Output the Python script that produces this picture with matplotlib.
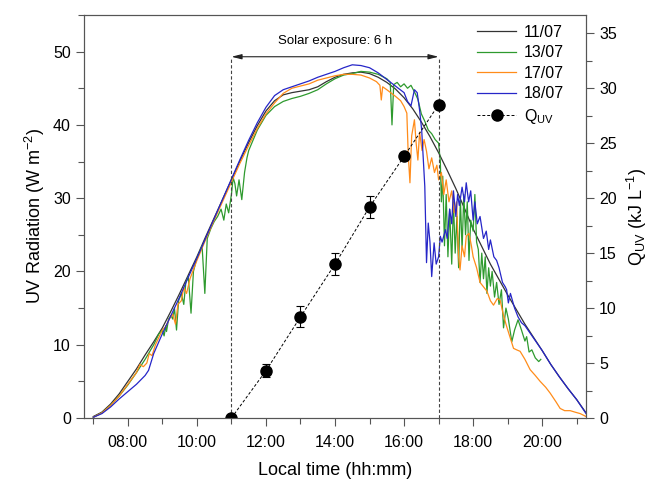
import numpy as np
import matplotlib
matplotlib.use("Agg")
import matplotlib.pyplot as plt
from matplotlib.ticker import MultipleLocator, FixedLocator
from matplotlib.lines import Line2D

plt.rcParams['font.family'] = ['Liberation Sans', 'DejaVu Sans']
plt.rcParams['mathtext.default'] = 'regular'

# 11/07
t_1107 = [7.0, 7.25, 7.5, 7.75, 8.0, 8.25, 8.5, 8.75, 9.0, 9.25, 9.5, 9.75, 10.0, 10.25, 10.5, 10.75,
          11.0, 11.25, 11.5, 11.75, 12.0, 12.25, 12.5, 12.75, 13.0, 13.25, 13.5, 13.75, 14.0, 14.25,
          14.5, 14.75, 15.0, 15.25, 15.5, 15.75, 16.0, 16.25, 16.5, 16.75, 17.0, 17.25, 17.5, 17.75,
          18.0, 18.25, 18.5, 18.75, 19.0, 19.25, 19.5, 19.75, 20.0, 20.25, 20.5, 20.75, 21.0, 21.27]
uv_1107 = [0.2, 0.8, 1.9, 3.3, 5.0, 6.7, 8.6, 10.4, 12.3, 14.6, 17.0, 19.5, 22.0, 24.7, 27.3, 29.9,
           32.5, 35.1, 37.6, 39.9, 41.9, 43.3, 44.1, 44.4, 44.6, 44.8, 45.2, 45.9, 46.5, 46.9,
           47.1, 47.2, 47.0, 46.5, 45.8, 44.9, 43.7, 42.2, 40.4, 38.4, 36.2, 33.8, 31.3, 28.6,
           25.8, 23.4, 21.0, 18.9, 16.8, 14.8, 12.8, 11.0, 9.2, 7.3, 5.6, 4.0, 2.5, 0.7]

# 13/07
t_1307 = [7.0, 7.25, 7.5, 7.75, 8.0, 8.25, 8.5, 8.75, 8.9, 9.0, 9.05, 9.1, 9.12, 9.18, 9.25, 9.3, 9.35,
          9.41, 9.47, 9.55, 9.62, 9.68, 9.75, 9.83, 9.9, 9.98, 10.05, 10.15, 10.23, 10.3, 10.4, 10.5,
          10.6, 10.7, 10.78, 10.85, 10.92, 11.0, 11.05, 11.1, 11.15, 11.22, 11.3, 11.38, 11.45, 11.5,
          11.75, 12.0, 12.25, 12.5, 12.75, 13.0, 13.25, 13.5, 13.75, 14.0, 14.25, 14.5, 14.75, 15.0,
          15.25, 15.5, 15.6, 15.65, 15.7, 15.8, 15.9, 16.0, 16.1, 16.2, 16.3, 16.4, 16.5, 16.6, 16.7,
          16.8, 16.9, 17.0, 17.05, 17.08, 17.12, 17.17, 17.22, 17.27, 17.32, 17.38, 17.43, 17.48,
          17.53, 17.58, 17.63, 17.68, 17.73, 17.78, 17.83, 17.88, 17.93, 18.0, 18.05, 18.1, 18.15,
          18.2, 18.25, 18.3, 18.35, 18.4, 18.45, 18.5, 18.55, 18.62, 18.68, 18.75, 18.82, 18.88,
          18.95, 19.02, 19.12, 19.2, 19.3, 19.4, 19.5, 19.55, 19.62, 19.7, 19.8, 19.9, 19.96]
uv_1307 = [0.1, 0.7, 1.7, 3.0, 4.5, 6.2, 8.0, 10.0, 11.5, 12.0, 11.2, 12.6, 11.8, 13.5, 14.0, 13.5, 15.0,
           12.0, 16.0, 17.0, 15.5, 18.5, 19.3, 14.3, 20.0, 21.5, 22.3, 23.5, 17.0, 24.5, 25.8, 26.8,
           27.5, 28.5, 27.0, 29.2, 28.0, 30.5, 32.8, 32.0, 30.3, 32.5, 29.8, 33.5, 35.5, 36.5,
           39.3, 41.3, 42.5, 43.2, 43.6, 43.9, 44.3, 44.8, 45.6, 46.3, 46.8, 47.0, 47.3, 47.2,
           46.9, 46.3, 45.8, 40.0, 45.5, 45.8, 45.2, 45.6, 45.0, 45.4, 44.5, 43.5, 41.5, 40.5, 39.3,
           38.8, 38.0, 37.5, 35.0, 29.5, 33.0, 23.5, 30.5, 22.0, 28.5, 21.0, 29.5, 22.5,
           27.5, 20.5, 30.0, 23.0, 30.5, 25.0, 29.5, 21.5, 27.0, 25.5, 30.5, 24.0, 23.0,
           18.5, 22.5, 19.0, 22.0, 17.0, 20.5, 18.0, 20.0, 16.5, 18.5, 15.5, 17.5, 12.3,
           15.0, 13.5, 10.4, 12.0, 13.4, 12.0, 10.5, 11.1, 9.0, 9.3, 8.2, 7.7, 8.0]

# 17/07
t_1707 = [7.0, 7.25, 7.5, 7.75, 8.0, 8.25, 8.35, 8.45, 8.55, 8.62, 8.7, 8.8, 9.0, 9.1, 9.2, 9.3, 9.38,
          9.45, 9.55, 9.62, 9.7, 9.8, 10.0, 10.25, 10.5, 10.75, 11.0, 11.25, 11.5, 11.75, 12.0, 12.25,
          12.5, 12.75, 13.0, 13.25, 13.5, 13.75, 14.0, 14.25, 14.5, 14.75, 15.0, 15.2, 15.3, 15.34,
          15.38, 15.5, 15.75, 15.9, 16.0, 16.08, 16.12, 16.17, 16.22, 16.3, 16.35, 16.4, 16.45, 16.52,
          16.58, 16.65, 16.72, 16.8, 16.88, 16.95, 17.0, 17.08, 17.15, 17.22, 17.3, 17.38, 17.45,
          17.52, 17.58, 17.62, 17.68, 17.75, 17.8, 17.88, 17.95, 18.0, 18.1, 18.2, 18.3, 18.4, 18.5,
          18.59, 18.7, 18.78, 18.88, 18.97, 19.07, 19.17, 19.26, 19.36, 19.5, 19.65, 19.8, 19.94,
          20.1, 20.23, 20.4, 20.52, 20.65, 20.81, 20.95, 21.1, 21.27]
uv_1707 = [0.1, 0.7, 1.7, 3.0, 4.6, 6.2, 7.3, 7.0, 7.5, 8.8, 8.5, 10.0, 12.0, 12.5, 13.5, 14.2, 12.8,
           15.5, 16.0, 17.8, 17.0, 19.0, 21.5, 24.3, 27.0, 29.6, 32.2, 34.8, 37.2, 39.5, 41.5, 43.0,
           44.3, 45.0, 45.3, 45.6, 46.1, 46.4, 46.7, 46.9, 46.9, 46.8, 46.4, 45.9, 45.4, 43.4,
           45.2, 44.8, 43.9, 43.3, 42.5, 41.6, 36.0, 32.1, 38.5, 40.7, 37.5, 35.2, 39.0, 36.5,
           38.0, 36.4, 34.0, 35.5, 33.5, 34.5, 32.5, 33.5, 30.5, 32.5, 29.5, 31.0, 28.0,
           29.5, 22.0, 20.2, 23.5, 22.0, 24.8, 25.2, 23.5, 22.0, 20.5, 18.5, 17.9, 17.3, 16.0,
           15.4, 16.3, 16.1, 14.0, 12.5, 11.0, 9.5, 9.3, 9.1, 8.0, 6.6, 5.8, 5.0,
           4.2, 3.4, 2.2, 1.3, 1.0, 1.0, 0.8, 0.6, 0.2]

# 18/07
t_1807 = [7.0, 7.25, 7.5, 7.75, 8.0, 8.25, 8.5, 8.6, 8.75, 9.0, 9.25, 9.5, 9.75, 10.0, 10.25, 10.5,
          10.75, 11.0, 11.25, 11.5, 11.75, 12.0, 12.25, 12.5, 12.75, 13.0, 13.25, 13.5, 13.75, 14.0,
          14.25, 14.5, 14.75, 15.0, 15.25, 15.5, 15.75, 16.0, 16.1, 16.2, 16.3, 16.38, 16.45, 16.51,
          16.6, 16.65, 16.7, 16.75, 16.8, 16.87, 16.93, 17.0, 17.05, 17.1, 17.2, 17.25, 17.32, 17.38,
          17.43, 17.5, 17.55, 17.6, 17.68, 17.75, 17.8, 17.87, 17.93, 18.0, 18.05, 18.12, 18.2, 18.3,
          18.38, 18.45, 18.5, 18.6, 18.68, 18.75, 18.85, 18.93, 18.97, 19.02, 19.08, 19.2, 19.3, 19.4,
          19.5, 19.75, 20.0, 20.25, 20.5, 20.75, 21.0, 21.27]
uv_1807 = [0.1, 0.6, 1.5, 2.6, 3.6, 4.6, 5.8, 6.5, 8.8, 11.5, 14.0, 16.5, 19.2, 21.8, 24.5, 27.2,
           29.9, 32.6, 35.3, 37.9, 40.3, 42.4, 44.0, 44.8, 45.2, 45.6, 46.0, 46.5, 46.9, 47.3,
           47.8, 48.2, 48.1, 47.8, 47.1, 46.2, 45.3, 44.4, 43.2, 42.6, 44.8, 44.4, 42.0, 39.3,
           31.6, 21.2, 26.6, 24.0, 19.3, 23.9, 21.0, 22.0, 24.8, 24.0, 25.7, 24.5, 28.5, 26.5,
           31.0, 27.5, 30.5, 29.0, 31.5, 29.5, 32.1, 29.5, 31.0, 27.0, 29.5, 26.5, 27.5, 24.5,
           25.5, 23.0, 24.3, 22.0, 21.5, 20.5, 18.5, 17.9, 17.5, 15.7, 17.0, 15.0, 13.8, 13.0,
           12.6, 10.9, 9.2, 7.3, 5.6, 4.0, 2.5, 0.6]

# Q_UV
t_q = [11, 12, 13, 14, 15, 16, 17]
q_uv = [0.0, 4.3, 9.2, 14.0, 19.2, 23.8, 28.5]
q_err = [0.0, 0.6, 0.95, 1.0, 1.0, 0.0, 0.0]

xticks = [8, 10, 12, 14, 16, 18, 20]
xlabels = ['08:00', '10:00', '12:00', '14:00', '16:00', '18:00', '20:00']

fig = plt.figure(figsize=(6.49, 4.8), dpi=100)
ax = fig.add_axes([0.1294, 0.1292, 0.7736, 0.8396])
ax2 = ax.twinx()

ax.plot(t_1107, uv_1107, color='#333333', lw=0.9, label='11/07')
ax.plot(t_1307, uv_1307, color='#2e9a2e', lw=0.9, label='13/07')
ax.plot(t_1707, uv_1707, color='#ff8c1a', lw=0.9, label='17/07')
ax.plot(t_1807, uv_1807, color='#2626c8', lw=0.9, label='18/07')

for xv in [11, 17]:
    ax.plot([xv, xv], [0, 49.3], color='#444444', lw=0.8, ls=(0, (3, 2)))
ax.annotate('', xy=(17, 49.3), xytext=(11, 49.3),
            arrowprops=dict(arrowstyle='<|-|>,head_length=0.6,head_width=0.15',
                            color='#222222', lw=0.8, shrinkA=0, shrinkB=0))
ax.text(14, 50.6, 'Solar exposure: 6 h', ha='center', va='bottom', fontsize=9.5)

ax2.errorbar(t_q, q_uv, yerr=q_err, color='black', marker='o', ms=8, lw=0.7,
             ls=(0, (3, 2)), capsize=3, elinewidth=0.8, capthick=0.8)

ax.set_xlim(6.73, 21.27)
ax.set_ylim(0, 55)
ax2.set_ylim(0, 55 * 2 / 3)

ax.set_xticks(xticks)
ax.set_xticklabels(xlabels)
ax.xaxis.set_minor_locator(FixedLocator([7, 9, 11, 13, 15, 17, 19, 21]))
ax.yaxis.set_major_locator(MultipleLocator(10))
ax.yaxis.set_minor_locator(MultipleLocator(5))
ax2.yaxis.set_major_locator(MultipleLocator(5))
ax2.yaxis.set_minor_locator(MultipleLocator(2.5))

for a in (ax, ax2):
    a.tick_params(which='major', direction='out', length=6, width=0.8, colors='#555555',
                  labelcolor='black', labelsize=11.5)
    a.tick_params(which='minor', direction='out', length=4, width=0.8, colors='#555555')
    for s in a.spines.values():
        s.set_color('#555555')
        s.set_linewidth(0.8)
ax.tick_params(axis='x', which='major', pad=6)

ax.set_xlabel('Local time (hh:mm)', fontsize=13, labelpad=9)
ax.set_ylabel('UV Radiation (W m$^{-2}$)', fontsize=13)
ax2.set_ylabel('Q$_{UV}$ (kJ L$^{-1}$)', fontsize=13, labelpad=6)

h1, l1 = ax.get_legend_handles_labels()
q_handle = Line2D([], [], color='black', marker='o', ms=8, lw=0.7, ls=(0, (3, 2)))
ax2.legend(h1 + [q_handle], l1 + ['Q$_{UV}$'], loc='upper right', frameon=False, fontsize=11.5,
           handlelength=2.4, labelspacing=0.35, borderaxespad=0.2, handletextpad=0.5,
           bbox_to_anchor=(0.975, 1.0))

fig.savefig('out.png', dpi=100)
